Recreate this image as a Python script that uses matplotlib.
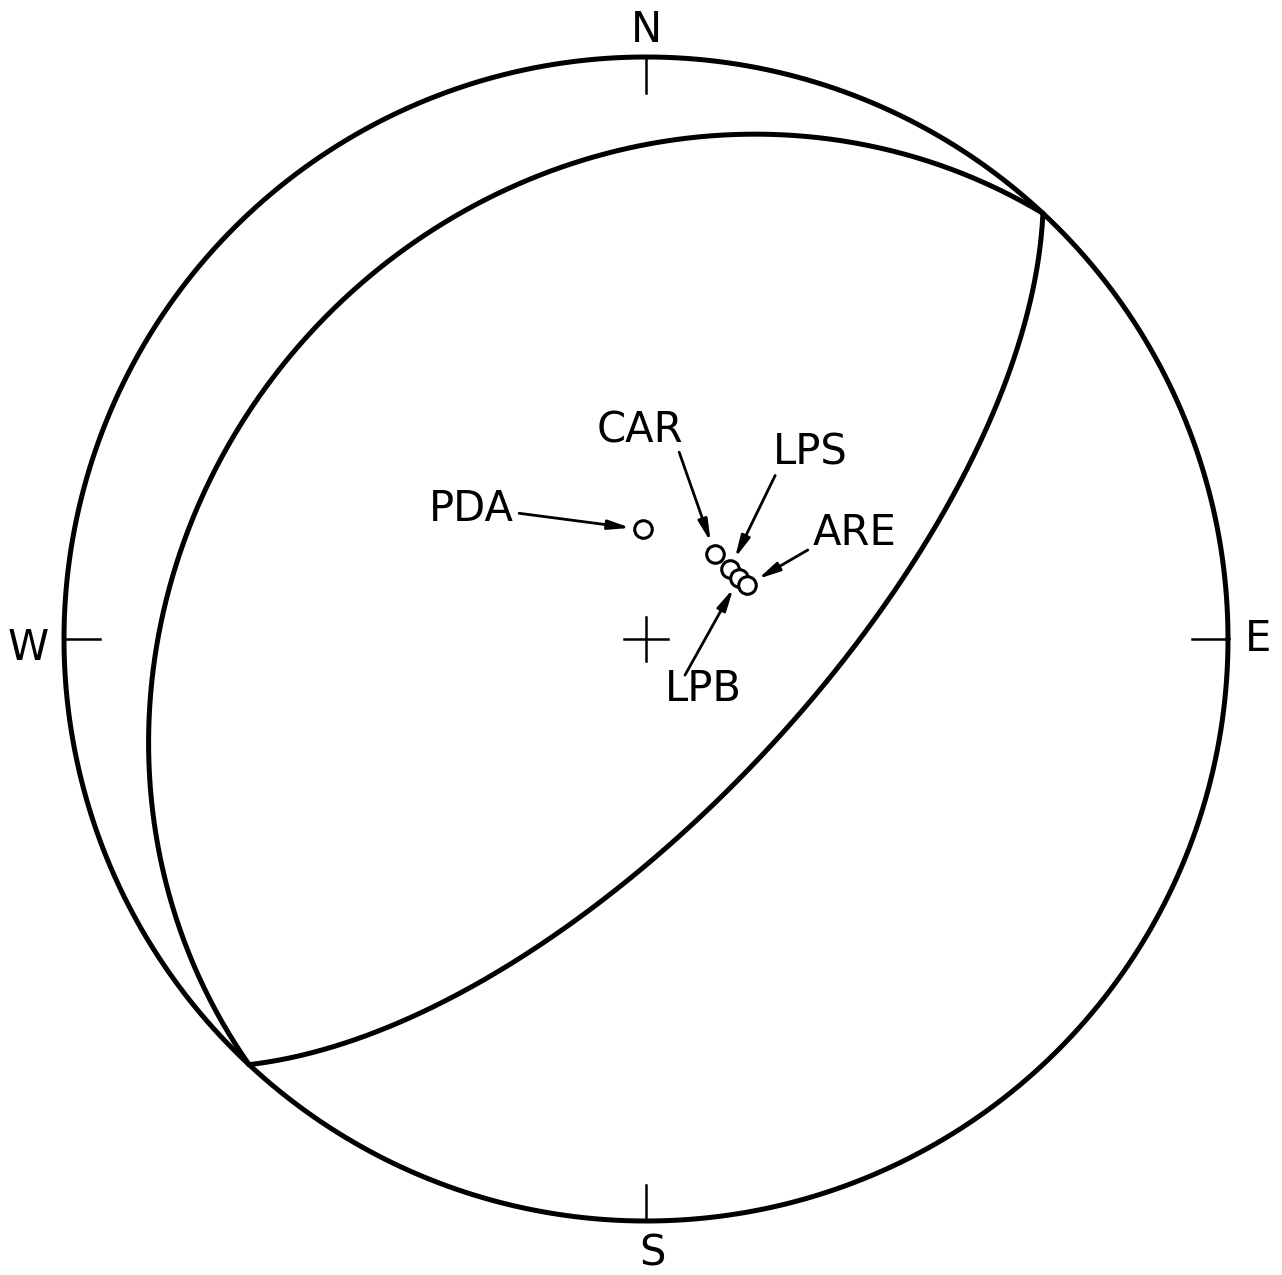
import numpy as np
import matplotlib
matplotlib.use("Agg")
import matplotlib.pyplot as plt

# nodal planes (strike, dip), right-hand rule
plane_strikes = [223.0, 43.0]
plane_dips = [23.0, 67.0]

# stations: azimuth (deg from N) and incidence angle (deg from vertical)
stations = ["PDA", "CAR", "LPS", "LPB", "ARE"]
station_az = [358.3, 38.9, 50.1, 56.7, 62.0]
station_inc = [15.3, 15.3, 15.2, 15.6, 16.0]

# label positions (net units) for each station
label_xy = [(-0.30, 0.224), (-0.011, 0.359), (0.282, 0.320), (0.098, -0.086), (0.358, 0.182)]
arrow_from = [(-0.218, 0.216), (0.057, 0.321), (0.222, 0.281), (0.067, -0.062), (0.278, 0.153)]

R = 582.0  # net radius in pixels
CX, CY = 646.0, 639.0
W, H = 1282, 1275


def equal_area(trend, plunge):
    r = np.sqrt(2) * np.sin(np.radians(90 - plunge) / 2)
    return r * np.sin(np.radians(trend)), r * np.cos(np.radians(trend))


def great_circle(strike, dip, n=400):
    t = np.linspace(0, np.pi, n)
    s = np.radians(strike)
    d = np.radians(dip)
    sv = np.array([np.sin(s), np.cos(s), 0.0])
    dv = np.array([np.cos(d) * np.sin(s + np.pi / 2), np.cos(d) * np.cos(s + np.pi / 2), np.sin(d)])
    v = np.outer(np.cos(t), sv) + np.outer(np.sin(t), dv)
    plunge = np.degrees(np.arcsin(np.clip(v[:, 2], -1, 1)))
    trend = np.degrees(np.arctan2(v[:, 0], v[:, 1]))
    return equal_area(trend, plunge)


fig = plt.figure(figsize=(W / 100, H / 100), dpi=100)
ax = fig.add_axes([0, 0, 1, 1])
ax.set_xlim(-CX / R, (W - CX) / R)
ax.set_ylim(-(H - CY) / R, CY / R)
ax.axis("off")

lw = 3.6
th = np.linspace(0, 2 * np.pi, 721)
ax.plot(np.cos(th), np.sin(th), color="black", lw=lw, solid_capstyle="round")

for s, d in zip(plane_strikes, plane_dips):
    x, y = great_circle(s, d)
    ax.plot(x, y, color="black", lw=lw, solid_capstyle="round")

# cardinal ticks and letters
tick = 0.062
ax.plot([0, 0], [1, 1 - tick], color="black", lw=1.8)
ax.plot([0, 0], [-1, -1 + tick], color="black", lw=1.8)
ax.plot([-1, -1 + tick], [0, 0], color="black", lw=1.8)
ax.plot([1, 1 - tick], [0, 0], color="black", lw=1.8)
fs = 30
ax.text(0, 1.046, "N", ha="center", va="center", fontsize=fs)
ax.text(0.012, -1.055, "S", ha="center", va="center", fontsize=fs)
ax.text(-1.062, -0.015, "W", ha="center", va="center", fontsize=fs)
ax.text(1.052, 0.0, "E", ha="center", va="center", fontsize=fs)

# centre cross
c = 0.037
ax.plot([-c, c], [0, 0], color="black", lw=1.8)
ax.plot([0, 0], [-c, c], color="black", lw=1.8)

sx, sy = equal_area(np.array(station_az), 90 - np.array(station_inc))
ax.scatter(sx, sy, s=160, facecolors="white", edgecolors="black", linewidths=2.2, zorder=5)

for i, name in enumerate(stations):
    lx, ly = label_xy[i]
    ax.text(lx, ly, name, ha="center", va="center", fontsize=fs)
    ax.annotate("", xy=(sx[i], sy[i]), xytext=arrow_from[i],
                arrowprops=dict(arrowstyle="-|>,head_length=1.3,head_width=0.28",
                                color="black", lw=2.0, shrinkA=0, shrinkB=9))

fig.savefig("out.png", dpi=100, facecolor="white")
